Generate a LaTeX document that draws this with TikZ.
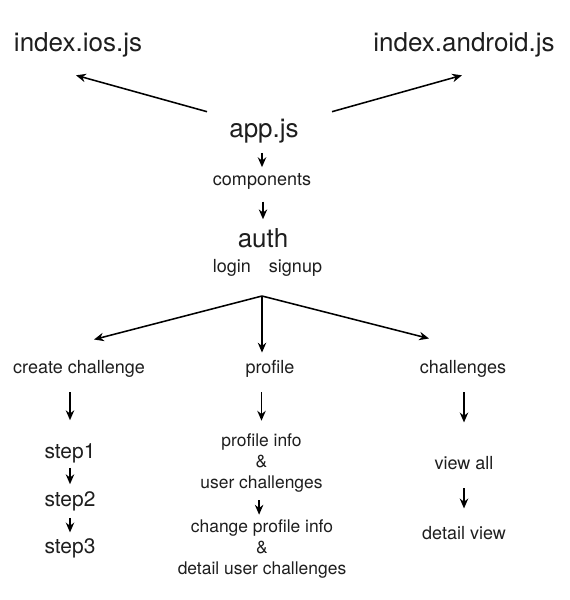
\documentclass[tikz,border=0pt]{standalone}
\usepackage{fontspec}
\setmainfont{TeX Gyre Heros}
\usetikzlibrary{arrows.meta, positioning, calc}
\definecolor{inkgray}{RGB}{30, 30, 30}

\begin{document}
\begin{tikzpicture}[
    x=0.025cm, y=-0.025cm,
    jsfile/.style={
        inner sep=0pt,
        text=inkgray,
        font=\fontsize{18.5}{22}\selectfont
    },
    screen/.style={
        inner sep=0pt,
        align=center,
        text=inkgray,
        font=\fontsize{12.8}{15}\selectfont
    },
    detail/.style={
        inner sep=0pt,
        align=center,
        text=inkgray,
        font=\fontsize{12.4}{14.9}\selectfont
    },
    stepitem/.style={
        inner sep=0pt,
        text=inkgray,
        font=\fontsize{14.9}{18}\selectfont
    },
    arrow/.style={
        -{Stealth[length=7pt,width=6pt]},
        line width=1.1pt
    },
    gap/.style 2 args={
        shorten <=#1,
        shorten >=#2
    }
]

% Page frame
\fill[white] (0,0) rectangle (570,600);
\useasboundingbox (0,0) rectangle (570,600);

% Platform entry files
\node[jsfile] (ios) at (78,45) {index.ios.js};
\node[jsfile] (android) at (464,45) {index.android.js};

% App root
\node[jsfile] (app) at (264,131) {app.js};
\node[screen] (components) at (262,181) {components};
\node[jsfile] (auth) at (263,238) {auth};
\node[screen] (authopts) at (267.5,268) {login\quad signup};

% Split point below auth
\coordinate (split) at (262,296);

% Main screens
\node[screen] (create) at (79,369) {create challenge};
\node[screen] (profile) at (270,369) {profile};
\node[screen] (challenges) at (463,369) {challenges};

% Create challenge steps
\node[stepitem] (step1) at (70,453) {step1};
\node[stepitem] (step2) at (70,501) {step2};
\node[stepitem] (step3) at (70,548) {step3};

% Profile views
\node[detail] (info) at (261.5,463) {profile info\\\&\\user challenges};
\node[detail] (change) at (262,549) {change profile info\\\&\\detail user challenges};

% Challenge views
\node[screen] (viewall) at (464,463) {view all};
\node[screen] (detailview) at (464,533) {detail view};

% Draw the arrows
\draw[arrow] ($(app.north west)+(-22,-7)$) -- ($(ios.south)+(-2,17.7)$);
\draw[arrow] ($(app.north east)+(33,-7)$) -- ($(android.south)+(-2,17.7)$);
\draw[arrow, gap={0.24cm}{0.14cm}] (components |- app.south) -- (components.north);
\draw[arrow, gap={0.31cm}{0.22cm}] (auth |- components.south) -- (auth.north);

\draw[arrow] (split) -- ($(create.north)+(15,-20.7)$);
\draw[arrow, shorten >=0.19cm] (split) -- (split |- profile.north);
\draw[arrow] (split) -- ($(challenges.north)+(-34,-21.7)$);

\draw[arrow, gap={0.36cm}{0.57cm}] (step1 |- create.south) -- (step1.north);
\draw[arrow, gap={0.12cm}{0.17cm}] (step1.south) -- (step2.north);
\draw[arrow, gap={0.17cm}{0.14cm}] (step2.south) -- (step3.north);

\draw[arrow, gap={0.36cm}{0.32cm}] (info |- profile.south) -- (info.north);
\draw[arrow, gap={0.19cm}{0.12cm}] ([xshift=-0.06cm]info.south) -- ([xshift=-0.06cm]info.south |- change.north);

\draw[arrow, gap={0.36cm}{0.84cm}] (viewall |- challenges.south) -- (viewall.north);
\draw[arrow, gap={0.46cm}{0.44cm}] (viewall.south) -- (detailview.north);

\end{tikzpicture}
\end{document}
